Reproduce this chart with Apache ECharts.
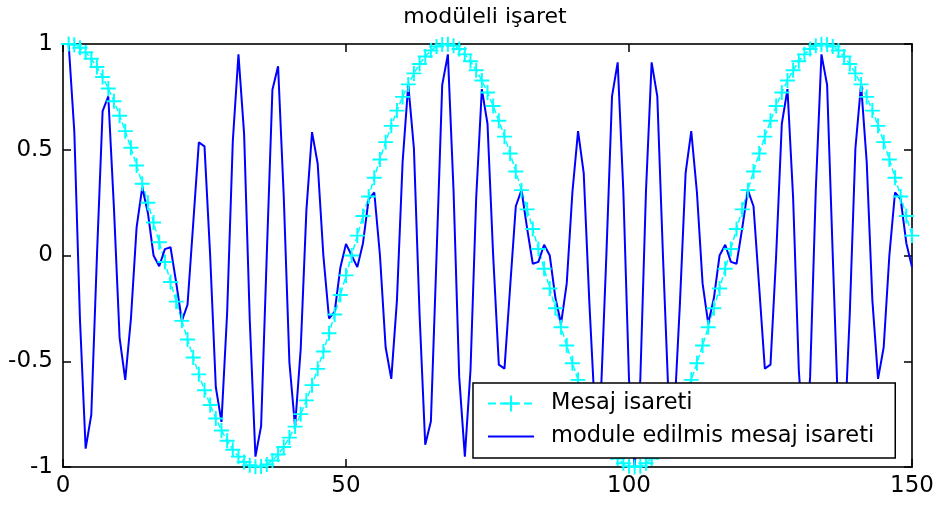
<!DOCTYPE html>
<html>
<head>
  <meta charset="utf-8" />
  <title>modüleli işaret</title>
  <script src="https://cdn.jsdelivr.net/npm/echarts@6.0.0/dist/echarts.min.js"></script>
  <style>
    html, body { margin: 0; padding: 0; background: #fff; }
    #chart { width: 938px; height: 505px; }
  </style>
</head>
<body>
<div id="chart"></div>
<script type="text/javascript">
    // mesaj isareti (cyan, "+" markers), one value per sample, samples 1..150
    var mesaj = [
        1, 0.996, 0.982, 0.960, 0.930, 0.891, 0.844, 0.790, 0.729, 0.661,
        0.588, 0.509, 0.426, 0.339, 0.249, 0.156, 0.063, -0.031, -0.125, -0.218,
        -0.309, -0.397, -0.482, -0.562, -0.637, -0.707, -0.771, -0.827, -0.876, -0.918,
        -0.951, -0.976, -0.992, -0.999, -0.998, -0.988, -0.969, -0.941, -0.905, -0.861,
        -0.809, -0.750, -0.685, -0.613, -0.536, -0.454, -0.368, -0.279, -0.187, -0.094,
        0, 0.094, 0.187, 0.279, 0.368, 0.454, 0.536, 0.613, 0.685, 0.750,
        0.809, 0.861, 0.905, 0.941, 0.969, 0.988, 0.998, 0.999, 0.992, 0.976,
        0.951, 0.918, 0.876, 0.827, 0.771, 0.707, 0.637, 0.562, 0.482, 0.397,
        0.309, 0.218, 0.125, 0.031, -0.063, -0.156, -0.249, -0.339, -0.426, -0.509,
        -0.588, -0.661, -0.729, -0.790, -0.844, -0.891, -0.930, -0.960, -0.982, -0.996,
        -1, -0.996, -0.982, -0.960, -0.930, -0.891, -0.844, -0.790, -0.729, -0.661,
        -0.588, -0.509, -0.426, -0.339, -0.249, -0.156, -0.063, 0.031, 0.125, 0.218,
        0.309, 0.397, 0.482, 0.562, 0.637, 0.707, 0.771, 0.827, 0.876, 0.918,
        0.951, 0.976, 0.992, 0.999, 0.998, 0.988, 0.969, 0.941, 0.905, 0.861,
        0.809, 0.750, 0.685, 0.613, 0.536, 0.454, 0.368, 0.279, 0.187, 0.094
    ];

    // module edilmis mesaj isareti (blue line)
    var modulated = [
        1, 0.585, -0.304, -0.913, -0.752, 0, 0.683, 0.752, 0.225, -0.389,
        -0.588, -0.299, 0.132, 0.322, 0.201, 0, -0.051, 0.030, 0.039, -0.128,
        -0.309, -0.233, 0.149, 0.535, 0.516, 0, -0.623, -0.787, -0.271, 0.540,
        0.951, 0.574, -0.307, -0.951, -0.807, 0, 0.784, 0.895, 0.280, -0.506,
        -0.809, -0.441, 0.212, 0.583, 0.434, 0, -0.298, -0.265, -0.058, 0.055,
        0, -0.055, 0.058, 0.265, 0.298, 0, -0.434, -0.583, -0.212, 0.441,
        0.809, 0.506, -0.280, -0.895, -0.784, 0, 0.807, 0.951, 0.307, -0.574,
        -0.951, -0.540, 0.271, 0.787, 0.623, 0, -0.516, -0.535, -0.149, 0.233,
        0.309, 0.128, -0.039, -0.030, 0.051, 0, -0.201, -0.322, -0.132, 0.299,
        0.588, 0.389, -0.225, -0.752, -0.683, 0, 0.752, 0.913, 0.304, -0.585,
        -1, -0.585, 0.304, 0.913, 0.752, 0, -0.683, -0.752, -0.225, 0.389,
        0.588, 0.299, -0.132, -0.322, -0.201, 0, 0.051, -0.030, -0.039, 0.128,
        0.309, 0.233, -0.149, -0.535, -0.516, 0, 0.623, 0.787, 0.271, -0.540,
        -0.951, -0.574, 0.307, 0.951, 0.807, 0, -0.784, -0.895, -0.280, 0.506,
        0.809, 0.441, -0.212, -0.583, -0.434, 0, 0.298, 0.265, 0.058, -0.055
    ];

    var seriesNames = ['Mesaj isareti', 'module edilmis mesaj isareti'];
    var titleText = 'modüleli işaret';

    // x = sample number (1-based, like matlab plot(y))
    function toPairs(arr) {
        return arr.map(function (v, i) { return [i + 1, v]; });
    }

    var chart = echarts.init(document.getElementById('chart'), null, { renderer: 'canvas' });
    var font = 'DejaVu Sans';
    var plus = 'path://M0,8.7H20V11.3H0Z M8.7,0H11.3V20H8.7Z';
    var tick = { inside: true, length: 8, lineStyle: { color: '#000', width: 1.5 } };

    var option = {
        animation: false,
        backgroundColor: '#fff',
        title: {
            text: titleText,
            left: 485,
            top: 6,
            textAlign: 'center',
            padding: 0,
            textStyle: { fontFamily: font, fontSize: 22, fontWeight: 'normal', color: '#000' }
        },
        legend: {
            orient: 'vertical',
            left: 473,
            top: 383,
            padding: [9, 21, 10, 14],
            itemGap: 10,
            itemWidth: 46,
            itemHeight: 20,
            backgroundColor: '#fff',
            borderColor: '#000',
            borderWidth: 1.5,
            borderRadius: 0,
            textStyle: { fontFamily: font, fontSize: 22.5, lineHeight: 22, color: '#000', padding: [0, 0, 0, 12] },
            data: [
                { name: seriesNames[0] },
                { name: seriesNames[1], itemStyle: { opacity: 0 } }
            ]
        },
        grid: {
            left: 63, right: 26, top: 44, bottom: 38,
            show: true,
            borderColor: '#333',
            borderWidth: 2,
            backgroundColor: '#fff'
        },
        xAxis: [{
            type: 'value', min: 0, max: 150, interval: 50,
            position: 'bottom',
            splitLine: { show: false },
            axisLine: { show: false, onZero: false },
            axisTick: tick,
            axisLabel: { margin: 8, fontFamily: font, fontSize: 23, color: '#000' }
        }, {
            type: 'value', min: 0, max: 150, interval: 50,
            position: 'top',
            splitLine: { show: false },
            axisLine: { show: false, onZero: false },
            axisTick: tick,
            axisLabel: { show: false }
        }],
        yAxis: [{
            type: 'value', min: -1, max: 1, interval: 0.5,
            position: 'left',
            splitLine: { show: false },
            axisLine: { show: false, onZero: false },
            axisTick: tick,
            axisLabel: { margin: 10, fontFamily: font, fontSize: 23, color: '#000' }
        }, {
            type: 'value', min: -1, max: 1, interval: 0.5,
            position: 'right',
            splitLine: { show: false },
            axisLine: { show: false, onZero: false },
            axisTick: tick,
            axisLabel: { show: false }
        }],
        series: [{
            name: seriesNames[0],
            type: 'line',
            data: toPairs(mesaj),
            symbol: plus,
            symbolSize: 15,
            showSymbol: true,
            showAllSymbol: true,
            itemStyle: { color: '#00ffff' },
            lineStyle: { color: '#00ffff', width: 1.5, type: 'dashed' },
            clip: false,
            silent: true
        }, {
            name: seriesNames[1],
            type: 'line',
            data: toPairs(modulated),
            symbol: 'none',
            itemStyle: { color: '#0000ff' },
            lineStyle: { color: '#0000ff', width: 2 },
            clip: false,
            silent: true
        }]
    };
    chart.setOption(option);
</script>
</body>
</html>
